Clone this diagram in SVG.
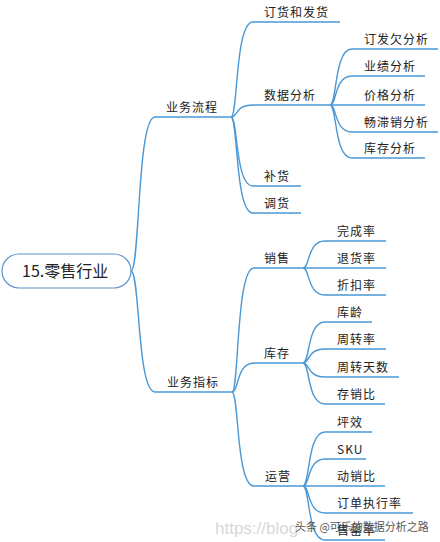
<svg xmlns="http://www.w3.org/2000/svg" width="440" height="542" viewBox="0 0 440 542">
<style>
.c{fill:none;stroke:#4a98d6;stroke-width:1.4}
.t{font-family:"Noto Sans CJK SC","Noto Sans",sans-serif;font-size:12px;letter-spacing:1px;fill:#222}
.r{font-family:"Noto Sans CJK SC","Noto Sans",sans-serif;font-size:16px;fill:#222}
.w1{font-family:"Liberation Sans",sans-serif;font-size:17px;fill:#d8d8d8}
.w2{font-family:"Noto Sans CJK SC",sans-serif;font-size:11px;fill:#555}
</style>
<rect width="440" height="542" fill="#fff"/>
<g id="connectors">
<path class="c" d="M131,271 C140,271 137,117 155,117 H231"/>
<path class="c" d="M131,271 C140,271 137,392 155,392 H232"/>
<path class="c" d="M231,117 C238,117 235,22 253,22 H340"/>
<path class="c" d="M231,117 C238,117 235,105 253,105 H330"/>
<path class="c" d="M231,117 C238,117 235,186 253,186 H301"/>
<path class="c" d="M231,117 C238,117 235,213 253,213 H301"/>
<path class="c" d="M330,105 C337,105 334,49 352,49 H438"/>
<path class="c" d="M330,105 C337,105 334,76 352,76 H425"/>
<path class="c" d="M330,105 H425"/>
<path class="c" d="M330,105 C337,105 334,132 352,132 H438"/>
<path class="c" d="M330,105 C337,105 334,158 352,158 H425"/>
<path class="c" d="M232,392 C239,392 236,268 254,268 H303"/>
<path class="c" d="M232,392 C239,392 236,363 254,363 H303"/>
<path class="c" d="M232,392 C239,392 236,486 254,486 H303"/>
<path class="c" d="M303,268 C310,268 307,241 325,241 H386"/>
<path class="c" d="M303,268 H386"/>
<path class="c" d="M303,268 C310,268 307,295 325,295 H386"/>
<path class="c" d="M303,363 C310,363 307,322 325,322 H372"/>
<path class="c" d="M303,363 C310,363 307,349 325,349 H386"/>
<path class="c" d="M303,363 C310,363 307,377 325,377 H399"/>
<path class="c" d="M303,363 C310,363 307,404 325,404 H385"/>
<path class="c" d="M303,486 C310,486 307,432 325,432 H372"/>
<path class="c" d="M303,486 C310,486 307,459 325,459 H366"/>
<path class="c" d="M303,486 H385"/>
<path class="c" d="M303,486 C310,486 307,513 325,513 H413"/>
<path class="c" d="M303,486 C310,486 307,540 325,540 H385"/>
</g>
<g id="root"><rect x="2" y="254" width="129" height="34" rx="17" fill="#fff" stroke="#5b93c9" stroke-width="1.2"/><text class="r" x="22" y="277">15.零售行业</text></g>
<g id="n-liucheng"><text class="t" x="166" y="112">业务流程</text></g>
<g id="n-dinghuo"><text class="t" x="264" y="17">订货和发货</text></g>
<g id="n-shuju"><text class="t" x="264" y="100">数据分析</text></g>
<g id="n-dingfa"><text class="t" x="364" y="44">订发欠分析</text></g>
<g id="n-yeji"><text class="t" x="364" y="71">业绩分析</text></g>
<g id="n-jiage"><text class="t" x="364" y="100">价格分析</text></g>
<g id="n-changzhi"><text class="t" x="364" y="127">畅滞销分析</text></g>
<g id="n-kucunfx"><text class="t" x="364" y="153">库存分析</text></g>
<g id="n-buhuo"><text class="t" x="264" y="181">补货</text></g>
<g id="n-diaohuo"><text class="t" x="264" y="208">调货</text></g>
<g id="n-zhibiao"><text class="t" x="167" y="387">业务指标</text></g>
<g id="n-xiaoshou"><text class="t" x="264" y="263">销售</text></g>
<g id="n-wancheng"><text class="t" x="337" y="236">完成率</text></g>
<g id="n-tuihuo"><text class="t" x="337" y="263">退货率</text></g>
<g id="n-zhekou"><text class="t" x="337" y="290">折扣率</text></g>
<g id="n-kucun"><text class="t" x="264" y="358">库存</text></g>
<g id="n-kuling"><text class="t" x="337" y="317">库龄</text></g>
<g id="n-zhouzhuan"><text class="t" x="337" y="344">周转率</text></g>
<g id="n-zhouzhuantian"><text class="t" x="337" y="372">周转天数</text></g>
<g id="n-cunxiao"><text class="t" x="337" y="399">存销比</text></g>
<g id="n-yunying"><text class="t" x="265" y="481">运营</text></g>
<g id="n-pingxiao"><text class="t" x="337" y="427">坪效</text></g>
<g id="n-sku"><text class="t" x="337" y="454">SKU</text></g>
<g id="n-dongxiao"><text class="t" x="337" y="481">动销比</text></g>
<g id="n-dingdan"><text class="t" x="337" y="508">订单执行率</text></g>
<g id="n-shouqing"><text class="t" x="337" y="535">售罄率</text></g>
<g id="watermark"><text class="w1" x="215" y="534">https://blog</text><text class="w2" x="295" y="531">头条 @可乐的数据分析之路</text></g>
</svg>
